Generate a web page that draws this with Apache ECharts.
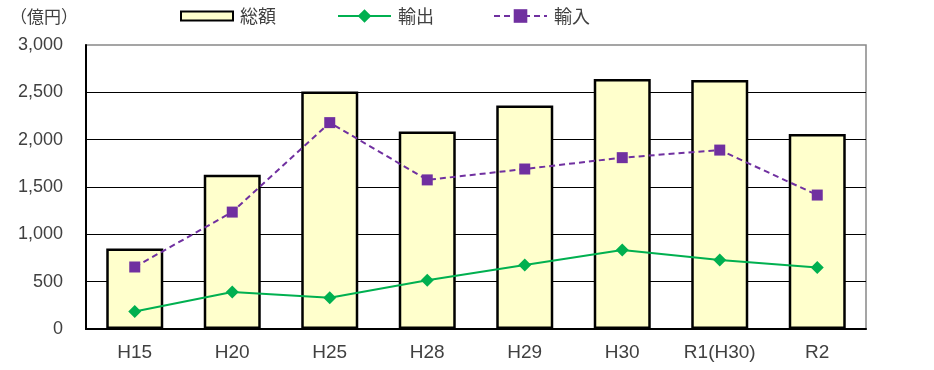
<!DOCTYPE html>
<html><head><meta charset="utf-8">
<script src="https://cdn.jsdelivr.net/npm/echarts@6/dist/echarts.min.js"></script>
<style>html,body{margin:0;padding:0;background:#fff}#c{width:934px;height:370px}</style>
</head><body><div id="c"></div>
<script>
const categories = ['H15','H20','H25','H28','H29','H30','R1(H30)','R2'];
const totalValues = [850, 1630, 2510, 2085, 2360, 2640, 2630, 2060];
const exportValues = [185, 390, 330, 515, 675, 835, 730, 650];
const importValues = [655, 1235, 2180, 1575, 1690, 1810, 1890, 1415];
const yTicks = {min: 0, max: 3000, interval: 500};

const jp = '"Noto Sans CJK JP", "Noto Sans", sans-serif';
const num = '"Liberation Sans", Arial, sans-serif';
const txt = '#404040';
const chart = echarts.init(document.getElementById('c'), null, {renderer: 'canvas'});
const legText = {fontSize: 18, color: txt, fontFamily: jp, lineHeight: 18, padding: [0, 0, 0, 2]};
chart.setOption({
  animation: false,
  textStyle: {fontFamily: jp},
  grid: {left: 86, right: 68, top: 45, bottom: 41, show: true, borderColor: '#888', borderWidth: 1.5, backgroundColor: 'transparent'},
  title: {text: '（億円）', left: 10, top: 8, padding: 0, textStyle: {fontSize: 17, fontWeight: 'normal', color: txt, fontFamily: jp}},
  legend: [
    {data: [{name: '総額', icon: 'rect'}], left: 180, top: 7, padding: 0, itemWidth: 52, itemHeight: 9, textStyle: legText},
    {data: ['輸出'], left: 337, top: 7, padding: 0, itemWidth: 53, itemHeight: 17, textStyle: legText},
    {data: ['輸入'], left: 493, top: 7, padding: 0, itemWidth: 53, itemHeight: 17, textStyle: legText}
  ],
  xAxis: {
    type: 'category', data: categories, boundaryGap: true,
    axisLine: {lineStyle: {color: '#000', width: 2}},
    axisTick: {inside: true, length: 5, lineStyle: {color: '#000'}},
    axisLabel: {fontSize: 19, color: txt, margin: 14, fontFamily: num, interval: 0}
  },
  yAxis: {
    type: 'value', min: yTicks.min, max: yTicks.max, interval: yTicks.interval,
    axisLine: {show: true, lineStyle: {color: '#000', width: 2}},
    axisTick: {show: false},
    axisLabel: {fontSize: 18, color: txt, margin: 23, fontFamily: num, formatter: v => v.toLocaleString('en-US')},
    splitLine: {show: true, showMaxLine: false, lineStyle: {color: '#000', width: 1}}
  },
  series: [
    {name: '総額', type: 'bar', data: totalValues, barWidth: 57,
     itemStyle: {color: '#FFFFCC', borderColor: '#000', borderWidth: 2.5}},
    {name: '輸出', type: 'line', data: exportValues, symbol: 'diamond', symbolSize: 13,
     lineStyle: {color: '#00B050', width: 2}, itemStyle: {color: '#00B050'}, z: 3},
    {name: '輸入', type: 'line', data: importValues, symbol: 'rect', symbolSize: 11,
     lineStyle: {color: '#7030A0', width: 2, type: [6, 4]}, itemStyle: {color: '#7030A0'}, z: 4}
  ]
});
</script></body></html>
